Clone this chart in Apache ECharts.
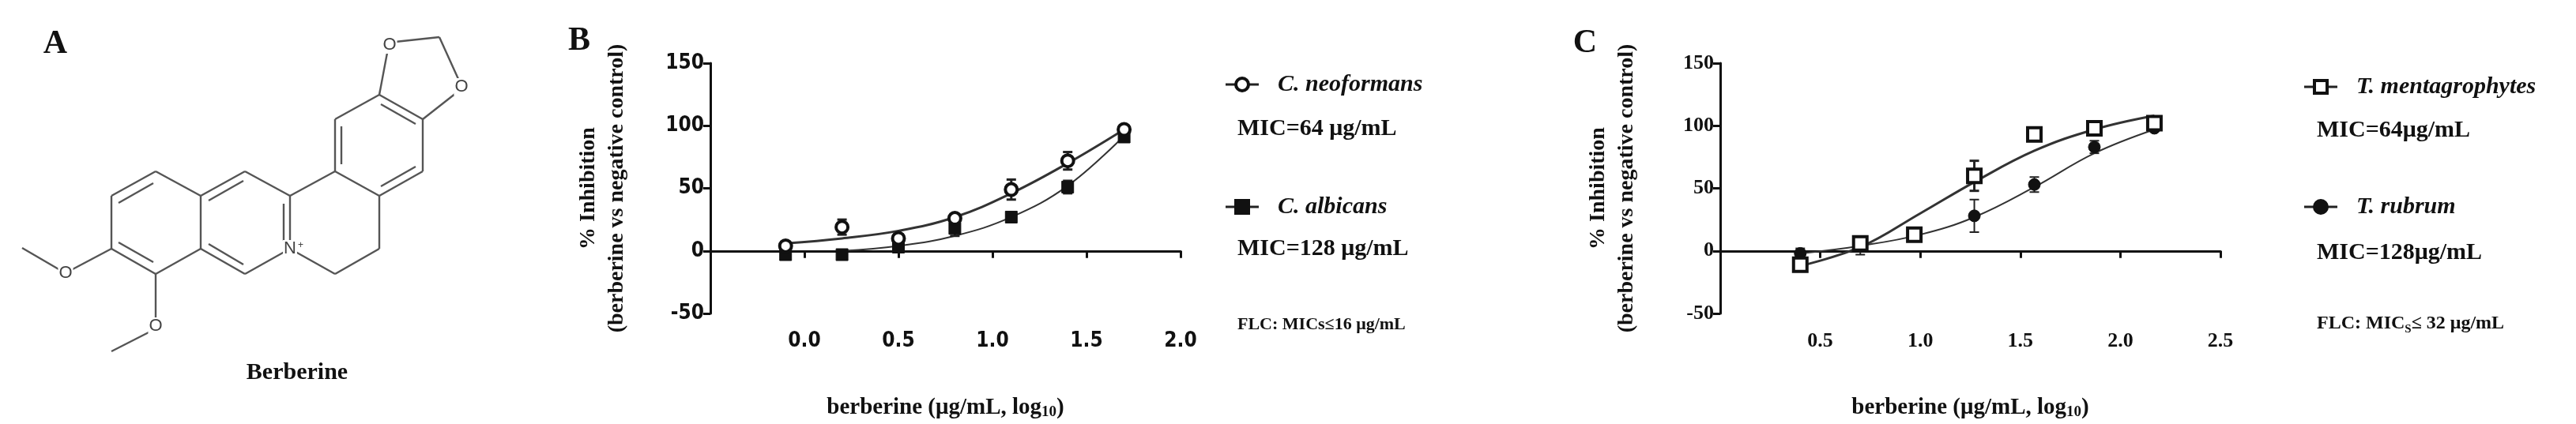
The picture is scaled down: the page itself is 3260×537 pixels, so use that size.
<!DOCTYPE html>
<html><head><meta charset="utf-8">
<script src="https://cdn.jsdelivr.net/npm/echarts@6/dist/echarts.min.js"></script>
<style>html,body{margin:0;background:#fff}#c{width:3260px;height:537px}</style>
</head><body><div id="c"></div>
<script>
// Panel B data
const bX = [-0.1, 0.2, 0.5, 0.8, 1.1, 1.4, 1.7];
const neoY = [4, 19, 10, 26, 49, 72, 97];
const neoErr = [2, 6, 3, 3, 8, 7, 2];
const albY = [-3, -3, 3, 18, 27, 51, 91];
const albErr = [1, 1, 2, 6, 3, 5, 3];
const neoFitX = [-0.1, 0.2, 0.5, 0.8, 1.1, 1.4, 1.7];
const neoFitY = [6, 10, 16, 27, 46, 70, 97];
const albFitX = [0.2, 0.5, 0.8, 1.1, 1.4, 1.7];
const albFitY = [0, 4, 12, 27, 52, 92];
// Panel C data
const cX = [0.4, 0.7, 0.97, 1.27, 1.57, 1.87, 2.17];
const menY = [-11, 6, 13, 60, 93, 98, 102];
const menErr = [3, 3, 4, 12, 4, 2, 3];
const rubY = [-2, 4, 12, 28, 53, 83, 98];
const rubErr = [4, 7, 3, 13, 6, 5, 2];
const menFitX = [0.4, 0.7, 1.0, 1.27, 1.57, 1.87, 2.17];
const menFitY = [-12, 3, 30, 55, 80, 97, 108];
const rubFitX = [0.4, 0.7, 1.0, 1.27, 1.57, 1.87, 2.17];
const rubFitY = [-2, 4, 13, 27, 51, 78, 97];
const bTicks = ['0.0', '0.5', '1.0', '1.5', '2.0'];
const cTicks = ['0.5', '1.0', '1.5', '2.0', '2.5'];

const zip = (a, b) => a.map((v, i) => [v, b[i]]);
const zip3 = (a, b, c) => a.map((v, i) => [v, b[i], c[i]]);
const serif = 'Liberation Serif';
const narrow = 'DejaVu Sans Condensed';

function errSeries(idx, x, y, e, w) {
  return {
    type: 'custom', xAxisIndex: idx, yAxisIndex: idx, z: 3,
    data: zip3(x, y, e),
    renderItem: (p, api) => {
      const xv = api.value(0), yv = api.value(1), ev = api.value(2);
      const a = api.coord([xv, yv + ev]), b = api.coord([xv, yv - ev]);
      const s = { stroke: '#222', lineWidth: w };
      return { type: 'group', children: [
        { type: 'line', shape: { x1: a[0], y1: a[1], x2: b[0], y2: b[1] }, style: s },
        { type: 'line', shape: { x1: a[0] - 6, y1: a[1], x2: a[0] + 6, y2: a[1] }, style: s },
        { type: 'line', shape: { x1: b[0] - 6, y1: b[1], x2: b[0] + 6, y2: b[1] }, style: s }
      ]};
    }
  };
}
function fit(idx, x, y, w) {
  return { type: 'line', xAxisIndex: idx, yAxisIndex: idx, smooth: 0.4, symbol: 'none',
    data: zip(x, y), lineStyle: { color: '#333', width: w }, z: 2 };
}
function pts(idx, x, y, sym, size, filled, bw) {
  return { type: 'scatter', xAxisIndex: idx, yAxisIndex: idx, symbol: sym, symbolSize: size, z: 4,
    data: zip(x, y),
    itemStyle: { color: filled ? '#111' : '#fff', borderColor: '#111', borderWidth: bw, opacity: 1 } };
}
function xAx(idx, min, max, ticks, font, size) {
  return { type: 'value', gridIndex: idx, min, max, interval: 0.5,
    axisLine: { onZero: true, lineStyle: { color: '#111', width: 3 } },
    axisTick: { length: 9, lineStyle: { color: '#111', width: 3 } },
    splitLine: { show: false },
    axisLabel: { margin: 22, color: '#111', fontFamily: font, fontWeight: 'bold', fontSize: size,
      formatter: v => { const s = v.toFixed(1); return ticks.includes(s) ? s : ''; } },
    name: 'berberine (μg/mL, log{s|10})', nameLocation: 'middle', nameGap: 104,
    nameTextStyle: { color: '#111', fontFamily: serif, fontWeight: 'bold', fontSize: 29,
      rich: { s: { fontSize: 19, fontFamily: serif, fontWeight: 'bold', verticalAlign: 'bottom', padding: [12, 0, 0, 0] } } }
  };
}
function yAx(idx, font, size) {
  return { type: 'value', gridIndex: idx, min: -50, max: 150, interval: 50,
    axisLine: { show: true, onZero: false, lineStyle: { color: '#111', width: 3 } },
    axisTick: { show: true, length: 9, lineStyle: { color: '#111', width: 3 } },
    splitLine: { show: false },
    axisLabel: { margin: 8, color: '#111', fontFamily: font, fontWeight: 'bold', fontSize: size },
    name: '% Inhibition\n(berberine vs negative control)', nameLocation: 'middle', nameGap: 100, nameRotate: 90,
    nameTextStyle: { color: '#111', fontFamily: serif, fontWeight: 'bold', fontSize: 28, lineHeight: 36 }
  };
}

// structure drawing (panel A)
const bonds = [
  [[197,217],[141,248]],[[141,248],[141,315]],[[141,315],[197,347]],[[197,347],[254,315]],[[254,315],[254,248]],[[254,248],[197,217]],
  [[254,248],[310,217]],[[310,217],[367,248]],[[367,248],[367,315]],[[367,315],[310,347]],[[310,347],[254,315]],
  [[367,248],[424,217]],[[424,217],[480,248]],[[480,248],[480,315]],[[480,315],[424,347]],[[424,347],[367,315]],
  [[424,217],[424,151]],[[424,151],[480,120]],[[480,120],[535,151]],[[535,151],[535,217]],[[535,217],[480,248]],
  [[480,120],[490,67]],[[500,53],[556,47]],[[556,47],[580,100]],[[577,118],[535,151]],
  [[141,315],[90,342]],[[76,342],[28,314]],[[197,347],[197,403]],[[190,420],[141,445]]
];
const dbl = [
  [[150,257],[194,232]],[[150,307],[194,332]],[[264,254],[308,229]],[[264,309],[308,335]],
  [[359,258],[359,305]],[[432,160],[432,208]],[[482,132],[526,157]],[[482,236],[526,211]]
];
const g = [];
bonds.concat(dbl).forEach(b => g.push({ type: 'line', shape: { x1: b[0][0], y1: b[0][1], x2: b[1][0], y2: b[1][1] },
  style: { stroke: '#555', lineWidth: 2.4 } }));
[[493,57,'O'],[584,110,'O'],[83,346,'O'],[197,413,'O'],[367,315,'N']].forEach(a => g.push({ type: 'text', x: a[0], y: a[1],
  style: { text: a[2], fontFamily: 'Liberation Sans', fontSize: 22, fill: '#444', align: 'center', verticalAlign: 'middle',
    backgroundColor: '#fff', padding: [0, 1] }, z: 10 }));
g.push({ type: 'text', x: 377, y: 305, style: { text: '+', fontSize: 12, fill: '#444' }, z: 11 });
g.push({ type: 'text', x: 376, y: 472, style: { text: 'Berberine', fontFamily: serif, fontWeight: 'bold', fontSize: 30, fill: '#111', align: 'center', verticalAlign: 'middle' } });
[['A', 70, 56], ['B', 733, 52], ['C', 2006, 55]].forEach(l => g.push({ type: 'text', x: l[1], y: l[2],
  style: { text: l[0], fontFamily: serif, fontWeight: 'bold', fontSize: 42, fill: '#111', align: 'center', verticalAlign: 'middle' } }));

function legItem(x, y, sym, filled, label) {
  g.push({ type: 'line', shape: { x1: x, y1: y, x2: x + 42, y2: y }, style: { stroke: '#222', lineWidth: 3 } });
  const c = x + 21;
  if (sym === 'circle') g.push({ type: 'circle', shape: { cx: c, cy: y, r: 8 }, style: { fill: filled ? '#111' : '#fff', stroke: '#111', lineWidth: 4 } });
  else g.push({ type: 'rect', shape: { x: c - 8, y: y - 8, width: 16, height: 16 }, style: { fill: filled ? '#111' : '#fff', stroke: '#111', lineWidth: 4 } });
  g.push({ type: 'text', x: x + 66, y, style: { text: label, fontFamily: serif, fontStyle: 'italic', fontWeight: 'bold', fontSize: 30, fill: '#111', verticalAlign: 'middle' } });
}
function txt(x, y, t, size, rich) {
  g.push({ type: 'text', x, y, style: { text: t, fontFamily: serif, fontWeight: 'bold', fontSize: size, fill: '#111', verticalAlign: 'middle', rich } });
}
legItem(1551, 107, 'circle', false, 'C. neoformans');
txt(1566, 163, 'MIC=64 μg/mL', 30);
legItem(1551, 262, 'rect', true, 'C. albicans');
txt(1566, 315, 'MIC=128 μg/mL', 30);
txt(1566, 411, 'FLC: MICs≤16 μg/mL', 22);
legItem(2916, 110, 'rect', false, 'T. mentagrophytes');
txt(2932, 165, 'MIC=64μg/mL', 30);
legItem(2916, 262, 'circle', true, 'T. rubrum');
txt(2932, 320, 'MIC=128μg/mL', 30);
txt(2932, 410, 'FLC: MIC{s|S}≤ 32 μg/mL', 24, { s: { fontSize: 15, fontFamily: serif, fontWeight: 'bold', verticalAlign: 'bottom', padding: [14, 0, 0, 0] } });

const chart = echarts.init(document.getElementById('c'));
chart.setOption({
  animation: false,
  grid: [{ left: 899, top: 80, width: 595, height: 400 }, { left: 2177, top: 80, width: 633, height: 400 }],
  xAxis: [xAx(0, -0.5, 2.0, bTicks, narrow, 26), xAx(1, 0, 2.5, cTicks, serif, 26)],
  yAxis: [yAx(0, narrow, 26), yAx(1, serif, 26)],
  series: [
    fit(0, neoFitX, neoFitY, 3), fit(0, albFitX, albFitY, 2),
    errSeries(0, bX, neoY, neoErr, 3), errSeries(0, bX, albY, albErr, 3),
    pts(0, bX, albY, 'rect', 15, true, 1), pts(0, bX, neoY, 'circle', 15, false, 4),
    fit(1, menFitX, menFitY, 3), fit(1, rubFitX, rubFitY, 2),
    errSeries(1, cX, menY, menErr, 3), errSeries(1, cX, rubY, rubErr, 2),
    pts(1, cX, rubY, 'circle', 15, true, 1), pts(1, cX, menY, 'rect', 17, false, 4)
  ],
  graphic: g
});
</script></body></html>
